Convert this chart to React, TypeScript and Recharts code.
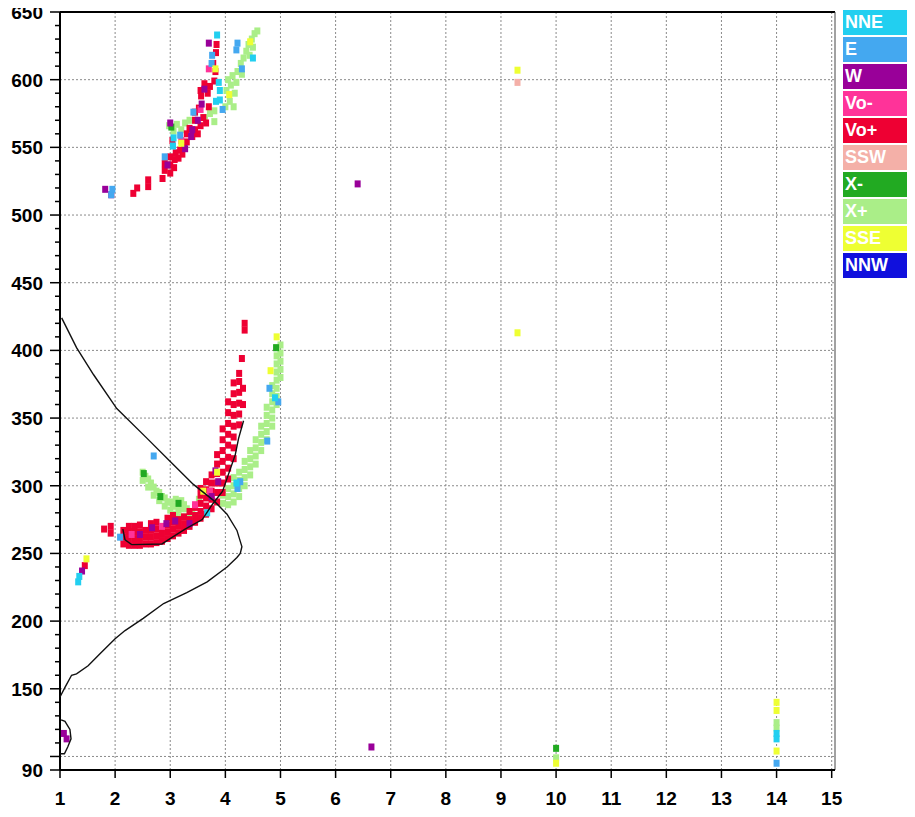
import React from 'react';
import { Legend, ReferenceLine, Scatter, ScatterChart, XAxis, YAxis } from 'recharts';

type Pt = [number, number];

// frequency (MHz) / virtual height (km) readings, one list per echo class
const nne: Pt[] = [
  [3.85, 633], [3.9, 585], [3.9, 592], [3.88, 598], [3.83, 584], [3.06, 557], [3.05, 551],
  [4.5, 616], [4.2, 302], [3.67, 280], [4.9, 365], [1.33, 229], [1.35, 233], [14, 113], [14, 117],
];
const eastE: Pt[] = [
  [1.93, 515], [1.95, 519], [2.9, 543], [3.18, 559], [3.42, 576], [3.95, 578], [3.75, 612], [3.76, 618],
  [4.2, 622], [4.22, 627], [4.3, 608], [4.22, 298], [4.27, 303], [4.8, 372], [4.96, 362], [4.76, 333],
  [2.09, 262], [2.7, 322], [14, 95],
];
const westW: Pt[] = [
  [1.82, 519], [1.93, 515], [2.95, 537], [3.27, 549], [3.0, 568], [3.38, 558], [3.4, 563], [3.5, 570],
  [3.57, 582], [3.62, 593], [3.7, 627], [3.87, 303], [3.75, 292], [3.35, 272], [2.93, 272], [3.09, 274],
  [2.67, 269], [3.82, 311], [2.45, 264], [6.4, 523], [6.65, 107], [1.07, 117], [1.12, 113], [1.4, 237],
];
const voMinus: Pt[] = [
  [2.3, 264], [2.85, 270], [3.45, 286], [3.72, 296], [3.2, 555], [3.55, 578], [3.7, 608],
];
const voPlus: Pt[] = [
  // upper trace
  [2.33, 516], [2.4, 520], [2.6, 521], [2.6, 526], [2.86, 527], [2.9, 533], [2.9, 538], [3.0, 531],
  [3.0, 537], [3.0, 543], [3.07, 535], [3.08, 541], [3.1, 546], [3.15, 542], [3.18, 548], [3.22, 545],
  [3.25, 551], [3.3, 554], [3.04, 555], [3.3, 560], [3.35, 564], [3.4, 558], [3.45, 563], [3.5, 560],
  [3.55, 566], [3.45, 570], [3.6, 572], [3.65, 568], [3.45, 576], [3.52, 579], [3.7, 580], [3.55, 592],
  [3.56, 588], [3.62, 597], [3.68, 590], [3.72, 595], [3.8, 599], [3.82, 606], [3.78, 612], [3.83, 620],
  [3.84, 626],
  // lower trace
  [2.15, 257], [2.15, 262], [2.15, 267],
  [2.25, 256], [2.25, 261], [2.25, 266], [2.25, 270],
  [2.35, 256], [2.35, 261], [2.35, 266], [2.35, 270],
  [2.45, 256], [2.45, 261], [2.45, 266], [2.45, 271],
  [2.55, 257], [2.55, 262], [2.55, 267],
  [2.65, 257], [2.65, 262], [2.65, 267], [2.65, 272],
  [2.75, 258], [2.75, 263], [2.75, 268], [2.75, 273],
  [2.85, 259], [2.85, 264], [2.85, 269],
  [2.95, 261], [2.95, 266], [2.95, 271], [2.95, 276],
  [3.05, 263], [3.05, 268], [3.05, 273], [3.05, 278],
  [3.15, 265], [3.15, 270], [3.15, 275],
  [3.25, 267], [3.25, 272], [3.25, 277],
  [3.35, 270], [3.35, 275], [3.35, 281],
  [3.45, 273], [3.45, 278], [3.45, 284],
  [3.55, 276], [3.55, 281], [3.55, 287], [3.55, 293], [3.55, 298],
  [3.65, 279], [3.65, 285], [3.65, 291], [3.65, 297], [3.65, 303],
  [3.75, 283], [3.75, 290], [3.75, 296], [3.75, 302], [3.75, 308],
  [3.85, 288], [3.85, 295], [3.85, 302], [3.85, 309], [3.85, 316], [3.85, 323],
  [3.95, 295], [3.95, 302], [3.95, 310], [3.95, 318], [3.95, 326], [3.95, 334], [3.95, 342],
  [4.05, 305], [4.05, 313], [4.05, 321], [4.05, 330], [4.05, 338], [4.05, 346], [4.05, 354], [4.05, 362],
  [4.15, 320], [4.15, 328], [4.15, 336], [4.15, 344], [4.15, 352], [4.15, 360], [4.15, 368], [4.15, 376],
  [4.25, 345], [4.25, 353], [4.25, 361], [4.25, 369], [4.25, 377], [4.25, 383],
  [4.32, 360], [4.32, 372], [4.3, 394], [4.35, 415], [4.35, 420],
  // stray
  [1.45, 241], [1.8, 268], [1.92, 265], [1.92, 270],
];
const ssw: Pt[] = [[9.3, 598]];
const xMinus: Pt[] = [[2.52, 309], [2.82, 292], [3.15, 287], [3.02, 565], [4.92, 402], [10, 106]];
const xPlus: Pt[] = [
  // upper trace
  [2.98, 566], [3.06, 562], [3.12, 567], [3.2, 563], [3.27, 568], [3.35, 570], [3.63, 572], [3.72, 575],
  [3.8, 569], [3.8, 577], [4.0, 580], [4.08, 584], [4.15, 580], [4.02, 592], [4.1, 596], [4.17, 590],
  [4.05, 600], [4.13, 603], [4.2, 598], [4.22, 606], [4.3, 604], [4.28, 612], [4.33, 616], [4.38, 621],
  [4.44, 618], [4.42, 626], [4.5, 624], [4.48, 630], [4.53, 634], [4.58, 636],
  // lower left arm
  [2.5, 304], [2.5, 310], [2.55, 307], [2.6, 299], [2.6, 305], [2.65, 302], [2.7, 293], [2.7, 299],
  [2.75, 296], [2.8, 289], [2.8, 295], [2.85, 292], [2.9, 285], [2.9, 291], [2.95, 288], [3.0, 282],
  [3.0, 288], [3.05, 285], [3.1, 279], [3.1, 285], [3.1, 290], [3.15, 282], [3.2, 277], [3.2, 283],
  [3.2, 289], [3.25, 286], [3.3, 277], [3.3, 283], [3.4, 280], [3.45, 285], [3.52, 290],
  // lower right arm
  [3.95, 287], [3.95, 293], [4.05, 286], [4.05, 292], [4.05, 298],
  [4.15, 288], [4.15, 294], [4.15, 300], [4.15, 306],
  [4.25, 292], [4.25, 298], [4.25, 304], [4.25, 310],
  [4.35, 300], [4.35, 306], [4.35, 312], [4.35, 318],
  [4.45, 308], [4.45, 314], [4.45, 320], [4.45, 326],
  [4.55, 316], [4.55, 322], [4.55, 328], [4.55, 334],
  [4.65, 326], [4.65, 332], [4.65, 338], [4.65, 344],
  [4.75, 334], [4.75, 340], [4.75, 346], [4.75, 352], [4.75, 358],
  [4.85, 344], [4.85, 350], [4.85, 356], [4.85, 362], [4.85, 368], [4.85, 374],
  [4.93, 360], [4.93, 366], [4.93, 372], [4.93, 378], [4.93, 384], [4.93, 390], [4.93, 396], [4.93, 402],
  [5.0, 380], [5.0, 386], [5.0, 392], [5.0, 398], [5.0, 404],
  [14, 125], [14, 121], [10, 99],
];
const sse: Pt[] = [
  [9.3, 607], [9.3, 413], [14, 140], [14, 134], [14, 104], [10, 95], [4.93, 410], [4.82, 385],
  [3.85, 310], [3.6, 296], [4.07, 589], [4.45, 628], [3.82, 608], [3.2, 553], [1.48, 246],
];
const nnw: Pt[] = [];

// electron density profile and fitted trace (black lines)
const profileLow: Pt[] = [[1.0, 102], [1.08, 102], [1.14, 107], [1.2, 113], [1.18, 120], [1.09, 126], [1.02, 127]];
const profileMain: Pt[] = [
  [1.0, 144], [1.09, 151], [1.21, 160], [1.3, 161], [1.51, 167], [1.73, 176], [2.0, 187], [2.18, 193],
  [2.51, 202], [2.88, 213], [3.3, 221], [3.67, 229], [4.03, 240], [4.21, 247], [4.27, 250], [4.3, 255],
  [4.21, 267], [4.03, 279], [3.79, 289], [3.42, 301], [3.0, 318], [2.58, 335], [2.03, 357], [1.61, 382],
  [1.3, 402], [1.03, 424],
];
const traceLine: Pt[] = [
  [2.14, 268], [2.18, 260], [2.3, 256.5], [2.85, 257], [3.04, 262], [3.27, 268], [3.58, 275],
  [3.76, 286], [3.95, 296], [4.18, 323], [4.24, 335], [4.33, 348],
];

const freqTicks = [1, 2, 3, 4, 5, 6, 7, 8, 9, 10, 11, 12, 13, 14, 15];
const heightTicks = [
  90, 100, 110, 120, 130, 140, 150, 160, 170, 180, 190, 200, 210, 220, 230, 240, 250, 260, 270, 280,
  290, 300, 310, 320, 330, 340, 350, 360, 370, 380, 390, 400, 410, 420, 430, 440, 450, 460, 470, 480,
  490, 500, 510, 520, 530, 540, 550, 560, 570, 580, 590, 600, 610, 620, 630, 640, 650,
];
const heightMajor = [90, 100, 150, 200, 250, 300, 350, 400, 450, 500, 550, 600, 650];
const heightLabels = [90, 150, 200, 250, 300, 350, 400, 450, 500, 550, 600, 650];
const gridFreq = [2, 3, 4, 5, 6, 7, 8, 9, 10, 11, 12, 13, 14, 15];
const gridHeight = [100, 150, 200, 250, 300, 350, 400, 450, 500, 550, 600];

const series = [
  { name: 'NNE', color: '#22cff0', data: nne },
  { name: 'E', color: '#44a8f0', data: eastE },
  { name: 'W', color: '#990099', data: westW },
  { name: 'Vo-', color: '#ff3399', data: voMinus },
  { name: 'Vo+', color: '#ee0033', data: voPlus },
  { name: 'SSW', color: '#f4b0a8', data: ssw },
  { name: 'X-', color: '#22aa22', data: xMinus },
  { name: 'X+', color: '#aaee88', data: xPlus },
  { name: 'SSE', color: '#eeff33', data: sse },
  { name: 'NNW', color: '#1010dd', data: nnw },
];
const drawOrder = ['X+', 'Vo+', 'X-', 'SSW', 'Vo-', 'W', 'E', 'NNE', 'SSE', 'NNW'];

const rows = (pts: Pt[]) => pts.map(([f, h]) => ({ f, h }));

// chart is pulled up over the body margin so the top label is not clipped
const W = 907;
const H = 817;
const AXIS_X = 52;
const AXIS_Y = 770;
const F_MAX = 15.06;

const YTick = (props: any) => {
  const v = props.payload.value;
  const major = heightMajor.includes(v);
  return (
    <g>
      <line x1={AXIS_X - (major ? 10 : 5)} x2={AXIS_X} y1={props.y} y2={props.y} stroke="#000" strokeWidth={1.5} />
      {heightLabels.includes(v) && (
        <text x={35} y={props.y + 7} textAnchor="end" fontSize={19} fontWeight="bold" fill="#000">
          {v}
        </text>
      )}
    </g>
  );
};

const XTick = (props: any) => (
  <g>
    <line x1={props.x} x2={props.x} y1={AXIS_Y} y2={AXIS_Y + 8} stroke="#000" strokeWidth={1.5} />
    <text x={props.x} y={AXIS_Y + 35} textAnchor="middle" fontSize={19} fontWeight="bold" fill="#000">
      {props.payload.value}
    </text>
  </g>
);

const LegendBoxes = () => (
  <div>
    {series.map((s) => (
      <div
        key={s.name}
        style={{
          width: 68,
          height: 25,
          marginBottom: 2,
          background: s.color,
          color: '#fff',
          fontWeight: 'bold',
          fontSize: 18,
          lineHeight: '25px',
          paddingLeft: 2,
          boxSizing: 'border-box',
          textAlign: 'left',
        }}
      >
        {s.name}
      </div>
    ))}
  </div>
);

const cell = (color: string) => (p: any) => (
  <rect x={p.cx - 3} y={p.cy - 3.5} width={6} height={7} fill={color} />
);

export default function App() {
  return (
    <div
      style={{
        width: W,
        height: H,
        marginTop: -8,
        fontFamily: '"Liberation Sans", Arial, sans-serif',
        background: '#fff',
      }}
    >
      <ScatterChart width={W} height={H} margin={{ top: 12, right: 80, bottom: 7, left: 0 }}>
        <XAxis
          type="number"
          dataKey="f"
          domain={[1, F_MAX]}
          ticks={freqTicks}
          interval={0}
          allowDataOverflow
          height={40}
          tickLine={false}
          axisLine={{ stroke: '#000', strokeWidth: 2 }}
          tick={XTick}
        />
        <YAxis
          type="number"
          dataKey="h"
          domain={[90, 650]}
          ticks={heightTicks}
          interval={0}
          allowDataOverflow
          width={52}
          tickLine={false}
          axisLine={{ stroke: '#000', strokeWidth: 2 }}
          tick={YTick}
        />
        {gridFreq.map((f) => (
          <ReferenceLine key={'gx' + f} x={f} stroke="#8a8a8a" strokeDasharray="2 2" />
        ))}
        {gridHeight.map((h) => (
          <ReferenceLine key={'gy' + h} y={h} stroke="#8a8a8a" strokeDasharray="2 2" />
        ))}
        <ReferenceLine y={650} stroke="#000" strokeWidth={2} />
        <ReferenceLine x={F_MAX} stroke="#444" strokeWidth={1} />
        {drawOrder.map((name) => {
          const s = series.find((x) => x.name === name)!;
          return (
            <Scatter
              key={s.name}
              name={s.name}
              data={rows(s.data)}
              fill={s.color}
              shape={cell(s.color)}
              isAnimationActive={false}
            />
          );
        })}
        {[profileLow, profileMain, traceLine].map((pts, i) => (
          <Scatter
            key={'line' + i}
            data={rows(pts)}
            line={{ stroke: '#111', strokeWidth: 1.4 }}
            lineType="joint"
            shape={() => <g />}
            legendType="none"
            isAnimationActive={false}
          />
        ))}
        <Legend
          layout="vertical"
          align="center"
          verticalAlign="middle"
          wrapperStyle={{ left: 835, top: 10, width: 70 }}
          content={() => <LegendBoxes />}
        />
      </ScatterChart>
    </div>
  );
}
